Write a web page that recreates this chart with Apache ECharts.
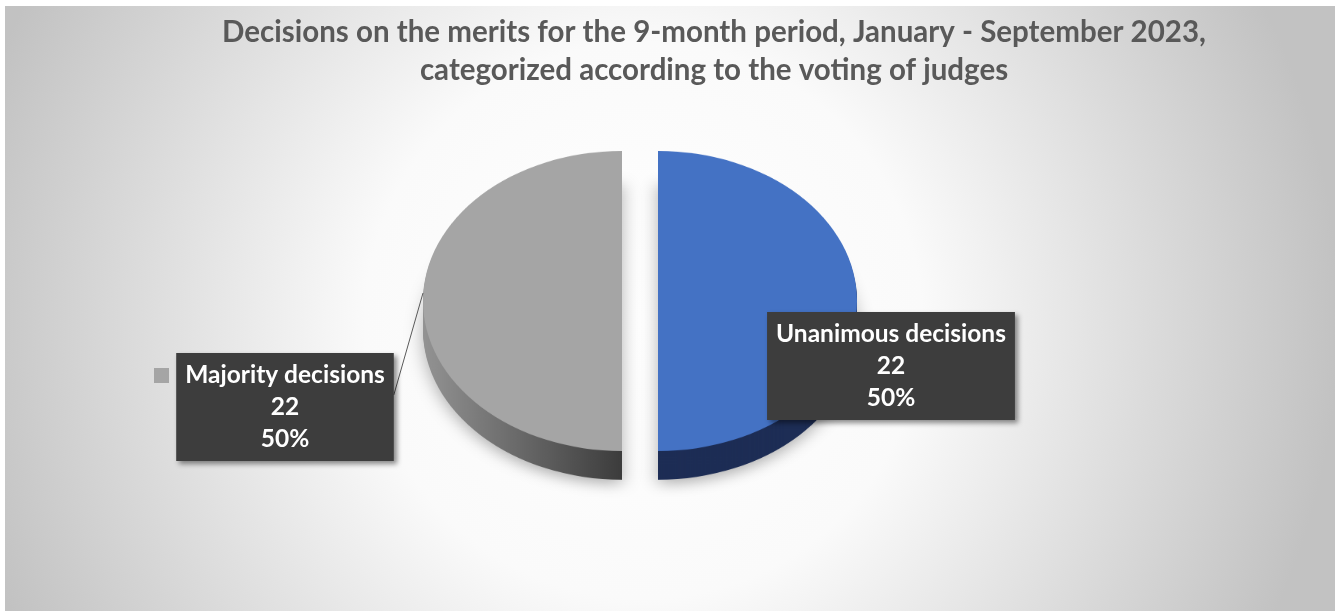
<!DOCTYPE html>
<html>
<head>
<meta charset="utf-8">
<script src="https://cdn.jsdelivr.net/npm/echarts@6/dist/echarts.min.js"></script>
<style>
  body { margin: 0; background: #fff; width: 1343px; height: 611px; overflow: hidden; }
  #bg { position: absolute; left: 5px; top: 6px; width: 1330px; height: 605px; }
  #pie { position: absolute; left: 0; top: 0; width: 1343px; height: 611px;
         transform-origin: 640px 301px; transform: scaleY(0.754); }
  #labels { position: absolute; left: 0; top: 0; width: 1343px; height: 611px; }
</style>
</head>
<body>
<div id="bg"></div>
<div id="pie"></div>
<div id="labels"></div>
<script>
// data
const categories = ['Unanimous decisions', 'Majority decisions'];
const counts = [22, 22];
const topColors = ['#4472c4', '#a5a5a5'];
const titleLines = [
  'Decisions on the merits for the 9-month period, January - September 2023,',
  'categorized according to the voting of judges'
];

const pieData = categories.map((name, i) => ({ name: name, value: counts[i] }));

// background + title
const bgChart = echarts.init(document.getElementById('bg'));
bgChart.setOption({
  backgroundColor: new echarts.graphic.RadialGradient(0.48, 0.52, 1.15, [
    { offset: 0, color: '#ffffff' },
    { offset: 0.4, color: '#fafafa' },
    { offset: 1, color: '#c2c2c2' }
  ]),
  title: {
    text: titleLines.join('\n'),
    left: 704,
    top: 2,
    textAlign: 'center',
    textStyle: {
      fontFamily: 'Lato',
      fontWeight: 'bold',
      fontSize: 29.5,
      lineHeight: 38,
      color: '#595959'
    }
  }
});

// 3D-ish pie: stacked dark layers for the side, top face last
const pieChart = echarts.init(document.getElementById('pie'));
const depth = 38;   // unscaled px
const step = 2;
const sideColors = [
  '#1d2d55',
  new echarts.graphic.LinearGradient(0, 0, 1, 0, [
    { offset: 0, color: '#939393' },
    { offset: 1, color: '#3c3c3c' }
  ])
];
const pieSeries = [];
for (let d = depth; d > 0; d -= step) {
  pieSeries.push({
    type: 'pie',
    center: [640, 301 + d],
    radius: 199,
    startAngle: 90,
    selectedMode: 'multiple',
    selectedOffset: 18,
    silent: true,
    label: { show: false },
    labelLine: { show: false },
    data: pieData.map((p, i) => ({
      name: p.name,
      value: p.value,
      selected: true,
      itemStyle: { color: sideColors[i] }
    }))
  });
}
pieSeries[0].itemStyle = { shadowBlur: 18, shadowColor: 'rgba(0,0,0,0.3)', shadowOffsetY: 6 };
pieSeries.push({
  type: 'pie',
  center: [640, 301],
  radius: 199,
  startAngle: 90,
  selectedMode: 'multiple',
  selectedOffset: 18,
  silent: true,
  label: { show: false },
  labelLine: { show: false },
  data: pieData.map((p, i) => ({
    name: p.name,
    value: p.value,
    selected: true,
    itemStyle: { color: topColors[i] }
  }))
});
pieChart.setOption({ animation: false, series: pieSeries });

// labels on top
const labelChart = echarts.init(document.getElementById('labels'));
const labelPos = { 'Unanimous decisions': [891, 366], 'Majority decisions': [285, 407] };
labelChart.setOption({
  animation: false,
  legend: {
    data: [{ name: 'Majority decisions', itemStyle: { color: '#a5a5a5' } }],
    left: 149,
    top: 363,
    icon: 'rect',
    itemWidth: 15,
    itemHeight: 15,
    formatter: () => '',
    selectedMode: false
  },
  series: [{
    type: 'pie',
    center: [640, 301],
    radius: 217,
    startAngle: 90,
    silent: true,
    itemStyle: { color: 'rgba(0,0,0,0)' },
    label: {
      show: true,
      position: 'outside',
      formatter: '{b}\n{c}\n{d}%',
      fontFamily: 'Lato',
      fontWeight: 'bold',
      fontSize: 24.5,
      lineHeight: 32,
      color: '#ffffff',
      align: 'center',
      backgroundColor: '#3d3d3d',
      padding: [6, 9, 6, 9],
      shadowBlur: 5,
      shadowColor: 'rgba(0,0,0,0.45)',
      shadowOffsetX: 3,
      shadowOffsetY: 3
    },
    labelLine: { show: true, lineStyle: { color: '#595959', width: 1 } },
    labelLayout: function (params) {
      const name = categories[params.dataIndex];
      const p = labelPos[name];
      const out = { x: p[0], y: p[1], align: 'center', verticalAlign: 'middle' };
      if (params.labelLinePoints) {
        const a = params.labelLinePoints[0];
        const end = [p[0] + params.labelRect.width / 2, p[1] - 12];
        out.labelLinePoints = [[a[0], a[1] - 8], end, end];
      }
      return out;
    },
    data: pieData.map((p, i) => ({
      name: p.name,
      value: p.value,
      labelLine: { show: i === 1 }
    }))
  }]
});
</script>
</body>
</html>
